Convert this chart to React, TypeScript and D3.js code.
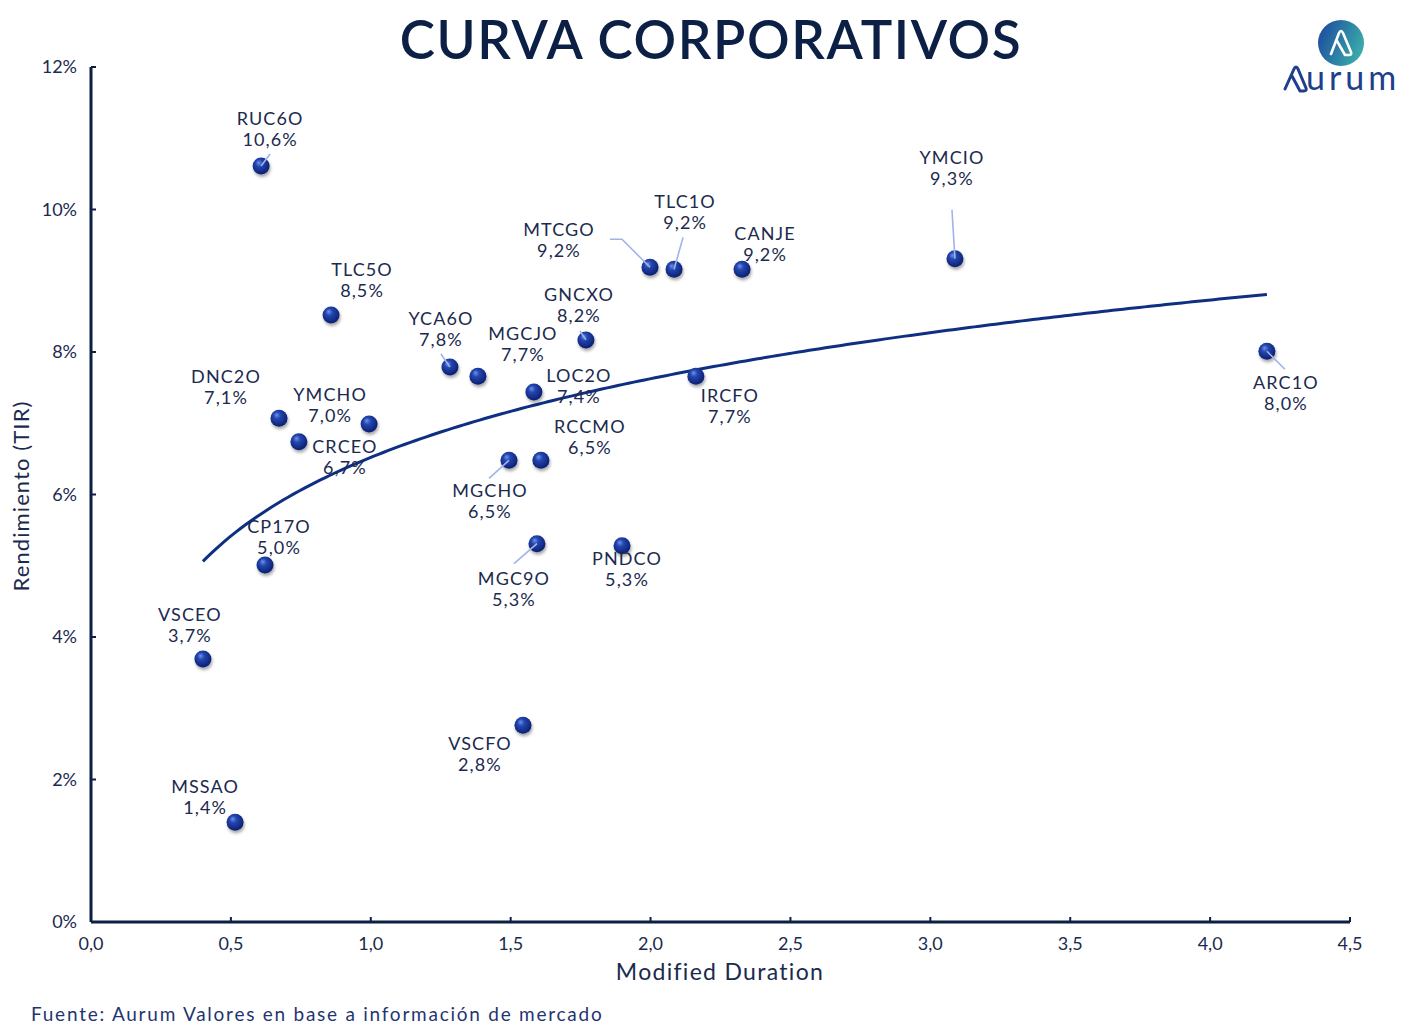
import React from "react";
import * as d3 from "d3";

const names = ["RUC6O","TLC5O","DNC2O","YMCHO","CRCEO","CP17O","VSCEO","MSSAO","YCA6O","MGCJO","GNCXO","LOC2O","MGCHO","RCCMO","MGC9O","PNDCO","VSCFO","MTCGO","TLC1O","CANJE","IRCFO","YMCIO","ARC1O"];
const duration = [0.608,0.858,0.672,0.994,0.743,0.622,0.40,0.515,1.283,1.383,1.769,1.583,1.494,1.608,1.594,1.898,1.544,1.998,2.084,2.327,2.162,3.088,4.203];
const yieldPct = [10.61,8.52,7.07,6.99,6.74,5.01,3.69,1.40,7.79,7.66,8.17,7.44,6.48,6.48,5.31,5.28,2.76,9.19,9.16,9.16,7.66,9.31,8.01];

const xTicks = [0,0.5,1,1.5,2,2.5,3,3.5,4,4.5];
const yTicks = [0,2,4,6,8,10,12];

// label offsets (px) from point: center of name line
const labelOffsets: [number, number][] = [
  [9,-47],[31,-45],[-53,-41],[-39,-29],[46,5],[14,-38],[-13,-44],[-30,-35],
  [-9,-48],[45,-42],[-7,-45],[45,-16],[-19,31],[49,-33],[-23,35],[5,13],
  [-43,19],[-91,-37],[11,-67],[23,-35],[34,20],[-3,-101],[19,32]
];
// leader lines (px offsets from point)
const leaders: { name: string; pts: [number, number][] }[] = [
  { name: "RUC6O", pts: [[9,-12],[0,0]] },
  { name: "YCA6O", pts: [[-9,-13],[0,0]] },
  { name: "GNCXO", pts: [[-6,-9],[0,0]] },
  { name: "MGCHO", pts: [[-20,18],[0,0]] },
  { name: "MGC9O", pts: [[-23,20],[0,0]] },
  { name: "MTCGO", pts: [[-40,-28],[-28,-28],[0,0]] },
  { name: "TLC1O", pts: [[9,-32],[0,0]] },
  { name: "YMCIO", pts: [[-3,-49],[0,0]] },
  { name: "ARC1O", pts: [[18,18],[0,0]] },
];

const W = 1422, H = 1033;
const navy = "#0c1f44";
const textCol = "#1b2a4e";
const FONT = "Lato, 'Noto Sans', sans-serif";

export default function App() {
  const x = d3.scaleLinear().domain([0, 4.5]).range([91, 1350]);
  const y = d3.scaleLinear().domain([0, 12]).range([922, 67]);
  const fmtX = (v: number) => v.toFixed(1).replace(".", ",");
  const fmtY = (v: number) => v.toFixed(1).replace(".", ",") + "%";

  // logarithmic trendline (least squares on ln(x))
  const L = duration.map((d) => Math.log(d));
  const mL = d3.mean(L) as number;
  const mY = d3.mean(yieldPct) as number;
  let sxy = 0, sxx = 0;
  L.forEach((l, i) => { sxy += (l - mL) * (yieldPct[i] - mY); sxx += (l - mL) * (l - mL); });
  const b = sxy / sxx;
  const a = mY - b * mL;
  const xmin = d3.min(duration) as number;
  const xmax = d3.max(duration) as number;
  const trendPts = d3.range(0, 201).map((i) => xmin + (xmax - xmin) * i / 200);
  const line = d3.line<number>().x((d) => x(d)).y((d) => y(a + b * Math.log(d))).curve(d3.curveLinear);

  const idx = (n: string) => names.indexOf(n);

  return (
    <svg width={W} height={H} style={{ position: "absolute", left: 0, top: 0, background: "#fff" }} fontFamily={FONT}>
      <defs>
        <radialGradient id="ball" cx="45%" cy="40%" r="60%" fx="35%" fy="30%">
          <stop offset="0%" stopColor="#6d92e8" />
          <stop offset="35%" stopColor="#2446b0" />
          <stop offset="100%" stopColor="#0a1f6e" />
        </radialGradient>
        <filter id="shadow" x="-50%" y="-50%" width="200%" height="200%">
          <feDropShadow dx="1" dy="2.5" stdDeviation="1.6" floodColor="#000" floodOpacity="0.35" />
        </filter>
        <linearGradient id="logoGrad" x1="0" y1="0.3" x2="1" y2="0.7">
          <stop offset="0%" stopColor="#1d4f9f" />
          <stop offset="100%" stopColor="#3bb0ab" />
        </linearGradient>
      </defs>
      <rect width={W} height={H} fill="#fff" />

      {/* Title */}
      <text x={711} y={59} textAnchor="middle" fontSize={53} fontWeight={600} fill={navy} letterSpacing={1.6}>CURVA CORPORATIVOS</text>

      {/* Logo */}
      <g>
        <circle cx={1341} cy={43} r={23} fill="url(#logoGrad)" />
        <path d="M1331,54 L1339,33 Q1341,29 1343,33 L1351,52 Q1352,55 1349,55 L1345,55 L1337,41" fill="none" stroke="#fff" strokeWidth={2.6} strokeLinejoin="round" strokeLinecap="round" />
        <path d="M1285,89 L1294,69 Q1296,65 1298,69 L1306,88 Q1307,91 1304,91 L1300,91 L1292,76" fill="none" stroke="#1e3f8c" strokeWidth={3} strokeLinejoin="round" strokeLinecap="round" />
        <text x={1306} y={90} fontSize={34} fill="#1e3f8c" letterSpacing={4}>urum</text>
      </g>

      {/* Axes */}
      <line x1={x(0)} x2={x(4.5)} y1={y(0)} y2={y(0)} stroke={navy} strokeWidth={3} />
      <line x1={x(0)} x2={x(0)} y1={y(0)} y2={y(12)} stroke={navy} strokeWidth={3} />
      {xTicks.map((t) => (
        <g key={"x" + t}>
          <line x1={x(t)} x2={x(t)} y1={y(0)} y2={y(0) - 5} stroke={navy} strokeWidth={2} />
          <text x={x(t)} y={y(0) + 28} textAnchor="middle" fontSize={18} fill={textCol}>{fmtX(t)}</text>
        </g>
      ))}
      {yTicks.map((t) => (
        <g key={"y" + t}>
          <line x1={x(0)} x2={x(0) + 5} y1={y(t)} y2={y(t)} stroke={navy} strokeWidth={2} />
          <text x={77} y={y(t) + 6} textAnchor="end" fontSize={18} fill={textCol}>{t + "%"}</text>
        </g>
      ))}
      <text x={720} y={980} textAnchor="middle" fontSize={23} fill={textCol} letterSpacing={1.3}>Modified Duration</text>
      <text transform="translate(29,496) rotate(-90)" textAnchor="middle" fontSize={22} fill={textCol} letterSpacing={1.1}>Rendimiento (TIR)</text>
      <text x={31} y={1021} fontSize={19} fill="#1f3572" letterSpacing={1.75}>Fuente: Aurum Valores en base a información de mercado</text>

      {/* Trendline */}
      <path d={line(trendPts) || ""} fill="none" stroke="#0e2f82" strokeWidth={3} />

      {/* Points */}
      {names.map((n, i) => (
        <circle key={"p" + n} cx={x(duration[i])} cy={y(yieldPct[i])} r={8.5} fill="url(#ball)" filter="url(#shadow)" />
      ))}

      {/* Leader lines */}
      {leaders.map((ld) => {
        const i = idx(ld.name);
        const px = x(duration[i]), py = y(yieldPct[i]);
        const pts = ld.pts.map(([dx, dy]) => `${px + dx},${py + dy}`).join(" ");
        return <polyline key={"l" + ld.name} points={pts} fill="none" stroke="#9fb4ea" strokeWidth={1.6} />;
      })}

      {/* Labels */}
      {names.map((n, i) => {
        const px = x(duration[i]) + labelOffsets[i][0];
        const py = y(yieldPct[i]) + labelOffsets[i][1];
        return (
          <text key={"t" + n} x={px} y={py + 6} textAnchor="middle" fontSize={18} fill={textCol} letterSpacing={1.1}>
            <tspan x={px}>{n}</tspan>
            <tspan x={px} dy={21}>{fmtY(yieldPct[i])}</tspan>
          </text>
        );
      })}
    </svg>
  );
}
